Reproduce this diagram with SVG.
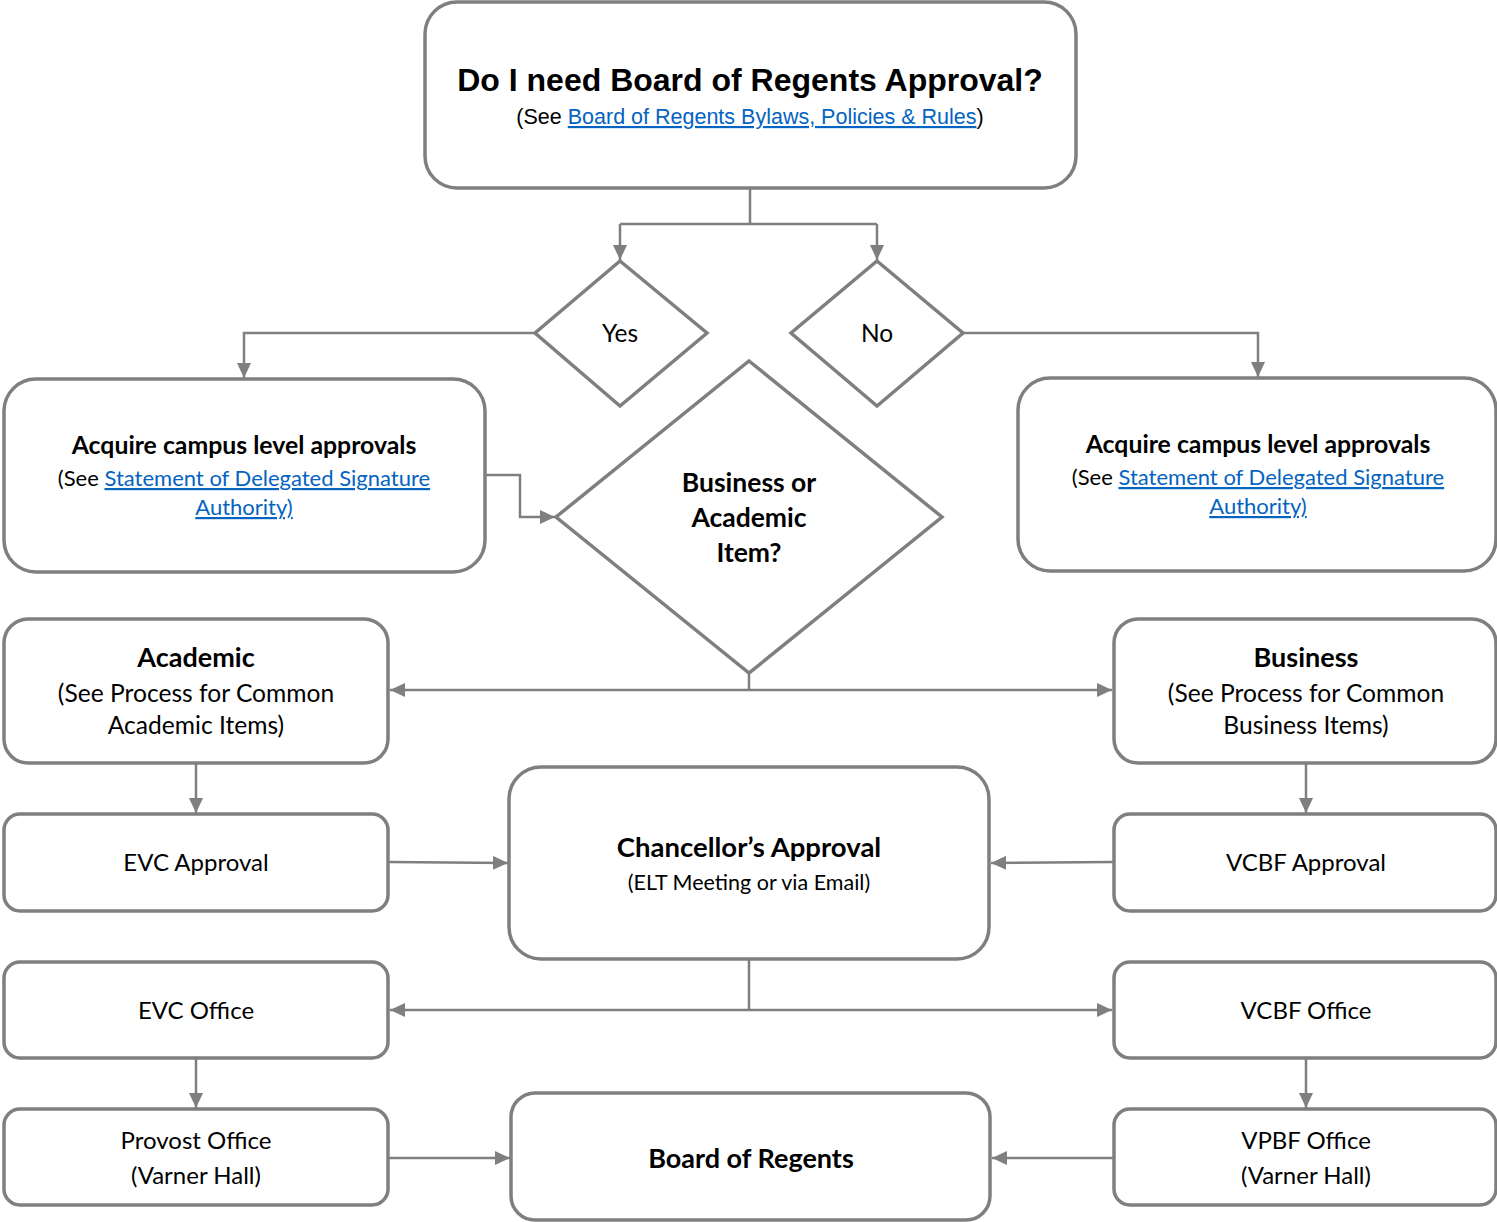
<svg xmlns="http://www.w3.org/2000/svg" width="1497" height="1222" viewBox="0 0 1497 1222">
<style>
.box{fill:#fff;stroke:#7f7f7f;stroke-width:3.5}
.dia{fill:#fff;stroke:#7f7f7f;stroke-width:3.5}
.con{fill:none;stroke:#7f7f7f;stroke-width:2.5}
.t{font-family:Lato,"Open Sans",sans-serif;fill:#000;text-anchor:middle}
.b{font-weight:bold}
.a{font-family:"Liberation Sans",Arial,sans-serif;fill:#000;text-anchor:middle}
.lk{fill:#0563c1;text-decoration:underline}
</style>
<defs>
<marker id="arr" markerUnits="userSpaceOnUse" markerWidth="16" markerHeight="14" refX="15" refY="7" orient="auto">
<path d="M0,0 L15,7 L0,14 Z" fill="#7f7f7f"/>
</marker>
</defs>
<rect width="1497" height="1222" fill="#fff"/>

<g id="connectors">
<path class="con" d="M750,188 V224 M620,224 H877"/>
<path class="con" d="M620,224 V260" marker-end="url(#arr)"/>
<path class="con" d="M877,224 V260" marker-end="url(#arr)"/>
<path class="con" d="M535,333 H244 V378" marker-end="url(#arr)"/>
<path class="con" d="M963,333 H1258 V377" marker-end="url(#arr)"/>
<path class="con" d="M485,475 H520 V517 H555" marker-end="url(#arr)"/>
<path class="con" d="M749,673 V690"/>
<path class="con" d="M749,690 H390" marker-end="url(#arr)"/>
<path class="con" d="M749,690 H1112" marker-end="url(#arr)"/>
<path class="con" d="M196,763 V813" marker-end="url(#arr)"/>
<path class="con" d="M1306,763 V813" marker-end="url(#arr)"/>
<path class="con" d="M388,862 L508,863" marker-end="url(#arr)"/>
<path class="con" d="M1113,862 L991,863" marker-end="url(#arr)"/>
<path class="con" d="M749,959 V1010"/>
<path class="con" d="M749,1010 H390" marker-end="url(#arr)"/>
<path class="con" d="M749,1010 H1112" marker-end="url(#arr)"/>
<path class="con" d="M196,1058 V1108" marker-end="url(#arr)"/>
<path class="con" d="M1306,1058 V1108" marker-end="url(#arr)"/>
<path class="con" d="M388,1158 H510" marker-end="url(#arr)"/>
<path class="con" d="M1113,1158 H992" marker-end="url(#arr)"/>
</g>

<g id="n-top">
<rect class="box" x="425" y="2" width="651" height="186" rx="32"/>
<text class="a b" x="750" y="91" font-size="32">Do I need Board of Regents Approval?</text>
<text class="a" x="750" y="124" font-size="21.5">(See <tspan class="lk">Board of Regents Bylaws, Policies &amp; Rules</tspan>)</text>
</g>

<g id="n-yes">
<polygon class="dia" points="620,261 707,333 620,406 535,333"/>
<text class="t" x="620" y="342" font-size="24.5">Yes</text>
</g>

<g id="n-no">
<polygon class="dia" points="877,261 963,333 877,406 791,333"/>
<text class="t" x="877" y="342" font-size="24.5">No</text>
</g>

<g id="n-campus-left">
<rect class="box" x="4" y="379" width="481" height="193" rx="32"/>
<text class="t b" x="244" y="454" font-size="24.8">Acquire campus level approvals</text>
<text class="t" x="244" y="486" font-size="22">(See <tspan class="lk">Statement of Delegated Signature</tspan></text>
<text class="t lk" x="244" y="515" font-size="22">Authority)</text>
</g>

<g id="n-campus-right">
<rect class="box" x="1018" y="378" width="478" height="193" rx="32"/>
<text class="t b" x="1258" y="453" font-size="24.8">Acquire campus level approvals</text>
<text class="t" x="1258" y="485" font-size="22">(See <tspan class="lk">Statement of Delegated Signature</tspan></text>
<text class="t lk" x="1258" y="514" font-size="22">Authority)</text>
</g>

<g id="n-bizacad">
<polygon class="dia" points="749,361 942,517 749,673 556,517"/>
<text class="t b" x="749" y="492" font-size="26.5">Business or</text>
<text class="t b" x="749" y="527" font-size="26.5">Academic</text>
<text class="t b" x="749" y="562" font-size="26.5">Item?</text>
</g>

<g id="n-academic">
<rect class="box" x="4" y="619" width="384" height="144" rx="24"/>
<text class="t b" x="196" y="667" font-size="27">Academic</text>
<text class="t" x="196" y="702" font-size="24.6">(See Process for Common</text>
<text class="t" x="196" y="734" font-size="24.6">Academic Items)</text>
</g>

<g id="n-business">
<rect class="box" x="1114" y="619" width="382" height="144" rx="24"/>
<text class="t b" x="1306" y="667" font-size="27">Business</text>
<text class="t" x="1306" y="702" font-size="24.6">(See Process for Common</text>
<text class="t" x="1306" y="734" font-size="24.6">Business Items)</text>
</g>

<g id="n-evc-approval">
<rect class="box" x="4" y="814" width="384" height="97" rx="16"/>
<text class="t" x="196" y="871" font-size="24">EVC Approval</text>
</g>

<g id="n-vcbf-approval">
<rect class="box" x="1114" y="814" width="382" height="97" rx="16"/>
<text class="t" x="1306" y="871" font-size="24">VCBF Approval</text>
</g>

<g id="n-chancellor">
<rect class="box" x="509" y="767" width="480" height="192" rx="32"/>
<text class="t b" x="749" y="857" font-size="27.5">Chancellor’s Approval</text>
<text class="t" x="749" y="890" font-size="21.5">(ELT Meeting or via Email)</text>
</g>

<g id="n-evc-office">
<rect class="box" x="4" y="962" width="384" height="96" rx="16"/>
<text class="t" x="196" y="1019" font-size="24">EVC Office</text>
</g>

<g id="n-vcbf-office">
<rect class="box" x="1114" y="962" width="382" height="96" rx="16"/>
<text class="t" x="1306" y="1019" font-size="24">VCBF Office</text>
</g>

<g id="n-provost">
<rect class="box" x="4" y="1109" width="384" height="96" rx="16"/>
<text class="t" x="196" y="1149" font-size="24">Provost Office</text>
<text class="t" x="196" y="1184" font-size="24">(Varner Hall)</text>
</g>

<g id="n-vpbf">
<rect class="box" x="1114" y="1109" width="382" height="96" rx="16"/>
<text class="t" x="1306" y="1149" font-size="24">VPBF Office</text>
<text class="t" x="1306" y="1184" font-size="24">(Varner Hall)</text>
</g>

<g id="n-bor">
<rect class="box" x="511" y="1093" width="479" height="127" rx="24"/>
<text class="t b" x="751" y="1168" font-size="27">Board of Regents</text>
</g>
</svg>
